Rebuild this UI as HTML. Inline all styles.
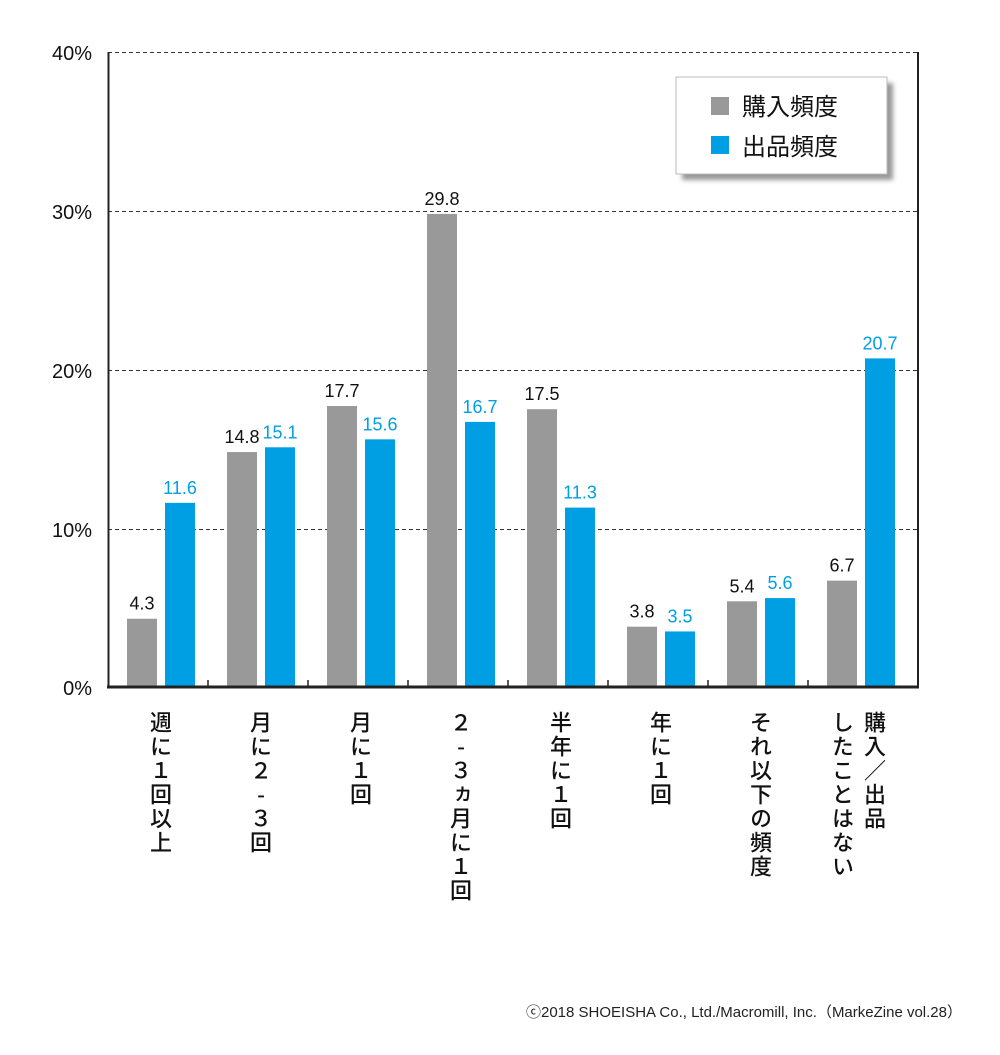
<!DOCTYPE html>
<html><head><meta charset="utf-8"><style>
body{margin:0;background:#fff;width:1000px;height:1055px;overflow:hidden;font-family:"Liberation Sans","Noto Sans CJK JP",sans-serif}
svg{position:absolute;left:0;top:0}
.v{position:absolute;writing-mode:vertical-rl;text-orientation:upright;font-size:22px;letter-spacing:2px;line-height:24px;color:#111;font-family:"Noto Sans CJK JP",sans-serif;font-weight:500}
</style></head><body>
<svg width="1000" height="1055" xmlns="http://www.w3.org/2000/svg" font-family="Liberation Sans, Noto Sans CJK JP, sans-serif">
<defs><filter id="f" x="-10%" y="-10%" width="130%" height="130%"><feGaussianBlur stdDeviation="2.5"/></filter></defs>
<g stroke="#333" stroke-width="1" stroke-dasharray="4,3">
<line x1="108" y1="52.5" x2="918" y2="52.5"/>
<line x1="108" y1="211.5" x2="918" y2="211.5"/>
<line x1="108" y1="370.5" x2="918" y2="370.5"/>
<line x1="108" y1="529.5" x2="918" y2="529.5"/>
</g>
<line x1="108.5" y1="52" x2="108.5" y2="688" stroke="#222" stroke-width="2"/>
<line x1="918" y1="52" x2="918" y2="688" stroke="#222" stroke-width="2"/>
<g font-size="20" fill="#111" text-anchor="end">
<text x="92" y="60">40%</text><text x="92" y="219">30%</text><text x="92" y="378">20%</text><text x="92" y="537">10%</text><text x="92" y="695">0%</text>
</g>
<g id="bars"></g>
<line x1="107" y1="687" x2="919" y2="687" stroke="#222" stroke-width="3"/>
<g stroke="#222" stroke-width="1.5">
<line x1="208" y1="680" x2="208" y2="687"/><line x1="308" y1="680" x2="308" y2="687"/><line x1="408" y1="680" x2="408" y2="687"/><line x1="508" y1="680" x2="508" y2="687"/><line x1="608" y1="680" x2="608" y2="687"/><line x1="708" y1="680" x2="708" y2="687"/><line x1="808" y1="680" x2="808" y2="687"/>
</g>
<rect x="682" y="83" width="211" height="97" fill="#555" opacity="0.6" filter="url(#f)"/>
<rect x="676" y="77" width="211" height="97" fill="#fff" stroke="#bbb"/>
<rect x="711" y="97" width="18" height="18" fill="#999"/>
<rect x="711" y="136" width="18" height="18" fill="#009fe3"/>
<g font-size="24" fill="#111" font-family="Noto Sans CJK JP, sans-serif">
<text x="742" y="115">購入頻度</text><text x="742" y="155">出品頻度</text>
</g>
<text x="962" y="1017" font-size="15" fill="#222" text-anchor="end">ⓒ2018 SHOEISHA Co., Ltd./Macromill, Inc.（MarkeZine vol.28）</text>
</svg>
<script>
var g=[4.3,14.8,17.7,29.8,17.5,3.8,5.4,6.7],b=[11.6,15.1,15.6,16.7,11.3,3.5,5.6,20.7];
var s='';
for(var i=0;i<8;i++){
 var x=127+i*100,h=g[i]*15.875,y=687-h;
 s+='<rect x="'+x+'" y="'+y+'" width="30" height="'+h+'" fill="#999"/>';
 s+='<text x="'+(x+15)+'" y="'+(y-9)+'" font-size="18" fill="#111" text-anchor="middle">'+g[i].toFixed(1)+'</text>';
 var x2=x+38,h2=b[i]*15.875,y2=687-h2;
 s+='<rect x="'+x2+'" y="'+y2+'" width="30" height="'+h2+'" fill="#009fe3"/>';
 s+='<text x="'+(x2+15)+'" y="'+(y2-9)+'" font-size="18" fill="#009fe3" text-anchor="middle">'+b[i].toFixed(1)+'</text>';
}
document.getElementById('bars').innerHTML=s;
</script>
<div class="v" style="left:149px;top:711px">週に１回以上</div>
<div class="v" style="left:249px;top:711px">月に２-３回</div>
<div class="v" style="left:349px;top:711px">月に１回</div>
<div class="v" style="left:449px;top:711px">２-３ヵ月に１回</div>
<div class="v" style="left:549px;top:711px">半年に１回</div>
<div class="v" style="left:649px;top:711px">年に１回</div>
<div class="v" style="left:749px;top:711px">それ以下の頻度</div>
<div class="v" style="left:863px;top:711px">購入／出品</div>
<div class="v" style="left:831px;top:711px">したことはない</div>
</body></html>
